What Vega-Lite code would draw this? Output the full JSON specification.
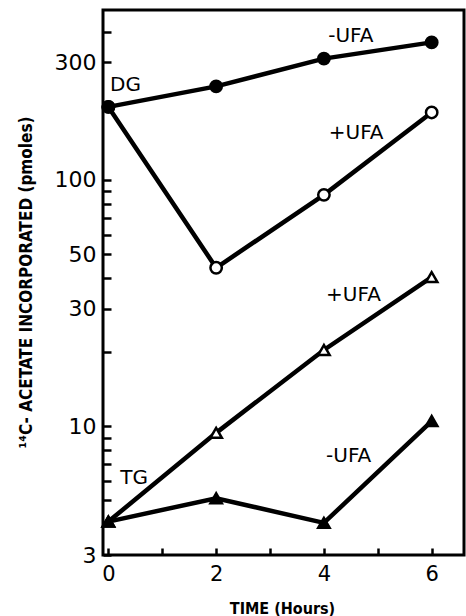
{
  "$schema": "https://vega.github.io/schema/vega-lite/v6.json",
  "width": 361,
  "height": 545,
  "autosize": {"type": "none"},
  "padding": {"left": 103, "top": 10, "right": 2, "bottom": 61},
  "background": "white",
  "config": {
    "view": {"stroke": "black", "strokeWidth": 3},
    "axis": {
      "domain": false,
      "grid": false,
      "tickColor": "black",
      "tickWidth": 2.5,
      "labelColor": "black",
      "labelFont": "DejaVu Sans",
      "titleColor": "black",
      "titleFont": "DejaVu Sans Condensed",
      "titleFontWeight": "bold"
    }
  },
  "datasets": {
    "uptake": [
      {"lipid": "DG", "ufa": "+UFA", "time": 0, "value": 198},
      {"lipid": "DG", "ufa": "+UFA", "time": 2, "value": 44},
      {"lipid": "DG", "ufa": "+UFA", "time": 4, "value": 87},
      {"lipid": "DG", "ufa": "+UFA", "time": 6, "value": 188},
      {"lipid": "TG", "ufa": "+UFA", "time": 0, "value": 4.1},
      {"lipid": "TG", "ufa": "+UFA", "time": 2, "value": 9.4},
      {"lipid": "TG", "ufa": "+UFA", "time": 4, "value": 20.4},
      {"lipid": "TG", "ufa": "+UFA", "time": 6, "value": 40.3},
      {"lipid": "DG", "ufa": "-UFA", "time": 0, "value": 198},
      {"lipid": "DG", "ufa": "-UFA", "time": 2, "value": 240},
      {"lipid": "DG", "ufa": "-UFA", "time": 4, "value": 311},
      {"lipid": "DG", "ufa": "-UFA", "time": 6, "value": 362},
      {"lipid": "TG", "ufa": "-UFA", "time": 0, "value": 4.1},
      {"lipid": "TG", "ufa": "-UFA", "time": 2, "value": 5.1},
      {"lipid": "TG", "ufa": "-UFA", "time": 4, "value": 4.05},
      {"lipid": "TG", "ufa": "-UFA", "time": 6, "value": 10.5}
    ],
    "notes": [
      {"text": "DG", "time": 0.03, "value": 242},
      {"text": "-UFA", "time": 4.08, "value": 386},
      {"text": "+UFA", "time": 4.09, "value": 155},
      {"text": "+UFA", "time": 4.04, "value": 34},
      {"text": "TG", "time": 0.22, "value": 6.15},
      {"text": "-UFA", "time": 4.04, "value": 7.56}
    ]
  },
  "encoding": {
    "x": {
      "field": "time",
      "type": "quantitative",
      "scale": {"domain": [-0.1, 6.6], "nice": false, "zero": false},
      "axis": {
        "title": "TIME (Hours)",
        "titleFontSize": 16,
        "titleX": 179,
        "titleY": 53,
        "titleBaseline": "middle",
        "values": [0, 1, 2, 3, 4, 5, 6],
        "labelExpr": "datum.value % 2 == 0 ? datum.label : ''",
        "labelFontSize": 21,
        "tickSize": -7,
        "labelPadding": 15
      }
    },
    "y": {
      "field": "value",
      "type": "quantitative",
      "scale": {"type": "log", "domain": [3, 490], "nice": false},
      "axis": {
        "title": "¹⁴C- ACETATE INCORPORATED (pmoles)",
        "titleFontSize": 17,
        "titleX": -77,
        "titleY": 272,
        "titleBaseline": "middle",
        "values": [3, 4, 5, 6, 7, 8, 9, 10, 20, 30, 40, 50, 60, 70, 80, 90, 100, 200, 300, 400],
        "format": "d",
        "labelExpr": "indexof([3, 10, 30, 50, 100, 300], datum.value) >= 0 ? datum.label : ''",
        "labelFontSize": 22,
        "tickSize": -8,
        "labelPadding": 15
      }
    }
  },
  "layer": [
    {
      "data": {"name": "uptake"},
      "mark": {"type": "line", "color": "black", "strokeWidth": 4.5},
      "encoding": {
        "detail": [{"field": "lipid"}, {"field": "ufa"}]
      }
    },
    {
      "data": {"name": "uptake"},
      "mark": {"type": "point", "filled": false, "stroke": "black", "strokeWidth": 2.5, "opacity": 1, "size": 130},
      "encoding": {
        "shape": {
          "field": "lipid",
          "type": "nominal",
          "scale": {"domain": ["DG", "TG"], "range": ["circle", "triangle-up"]},
          "legend": null
        },
        "fill": {
          "field": "ufa",
          "type": "nominal",
          "scale": {"domain": ["-UFA", "+UFA"], "range": ["black", "white"]},
          "legend": null
        }
      }
    },
    {
      "data": {"name": "notes"},
      "mark": {"type": "text", "align": "left", "baseline": "middle", "font": "DejaVu Sans", "fontSize": 20, "color": "black"},
      "encoding": {
        "text": {"field": "text"}
      }
    }
  ]
}
